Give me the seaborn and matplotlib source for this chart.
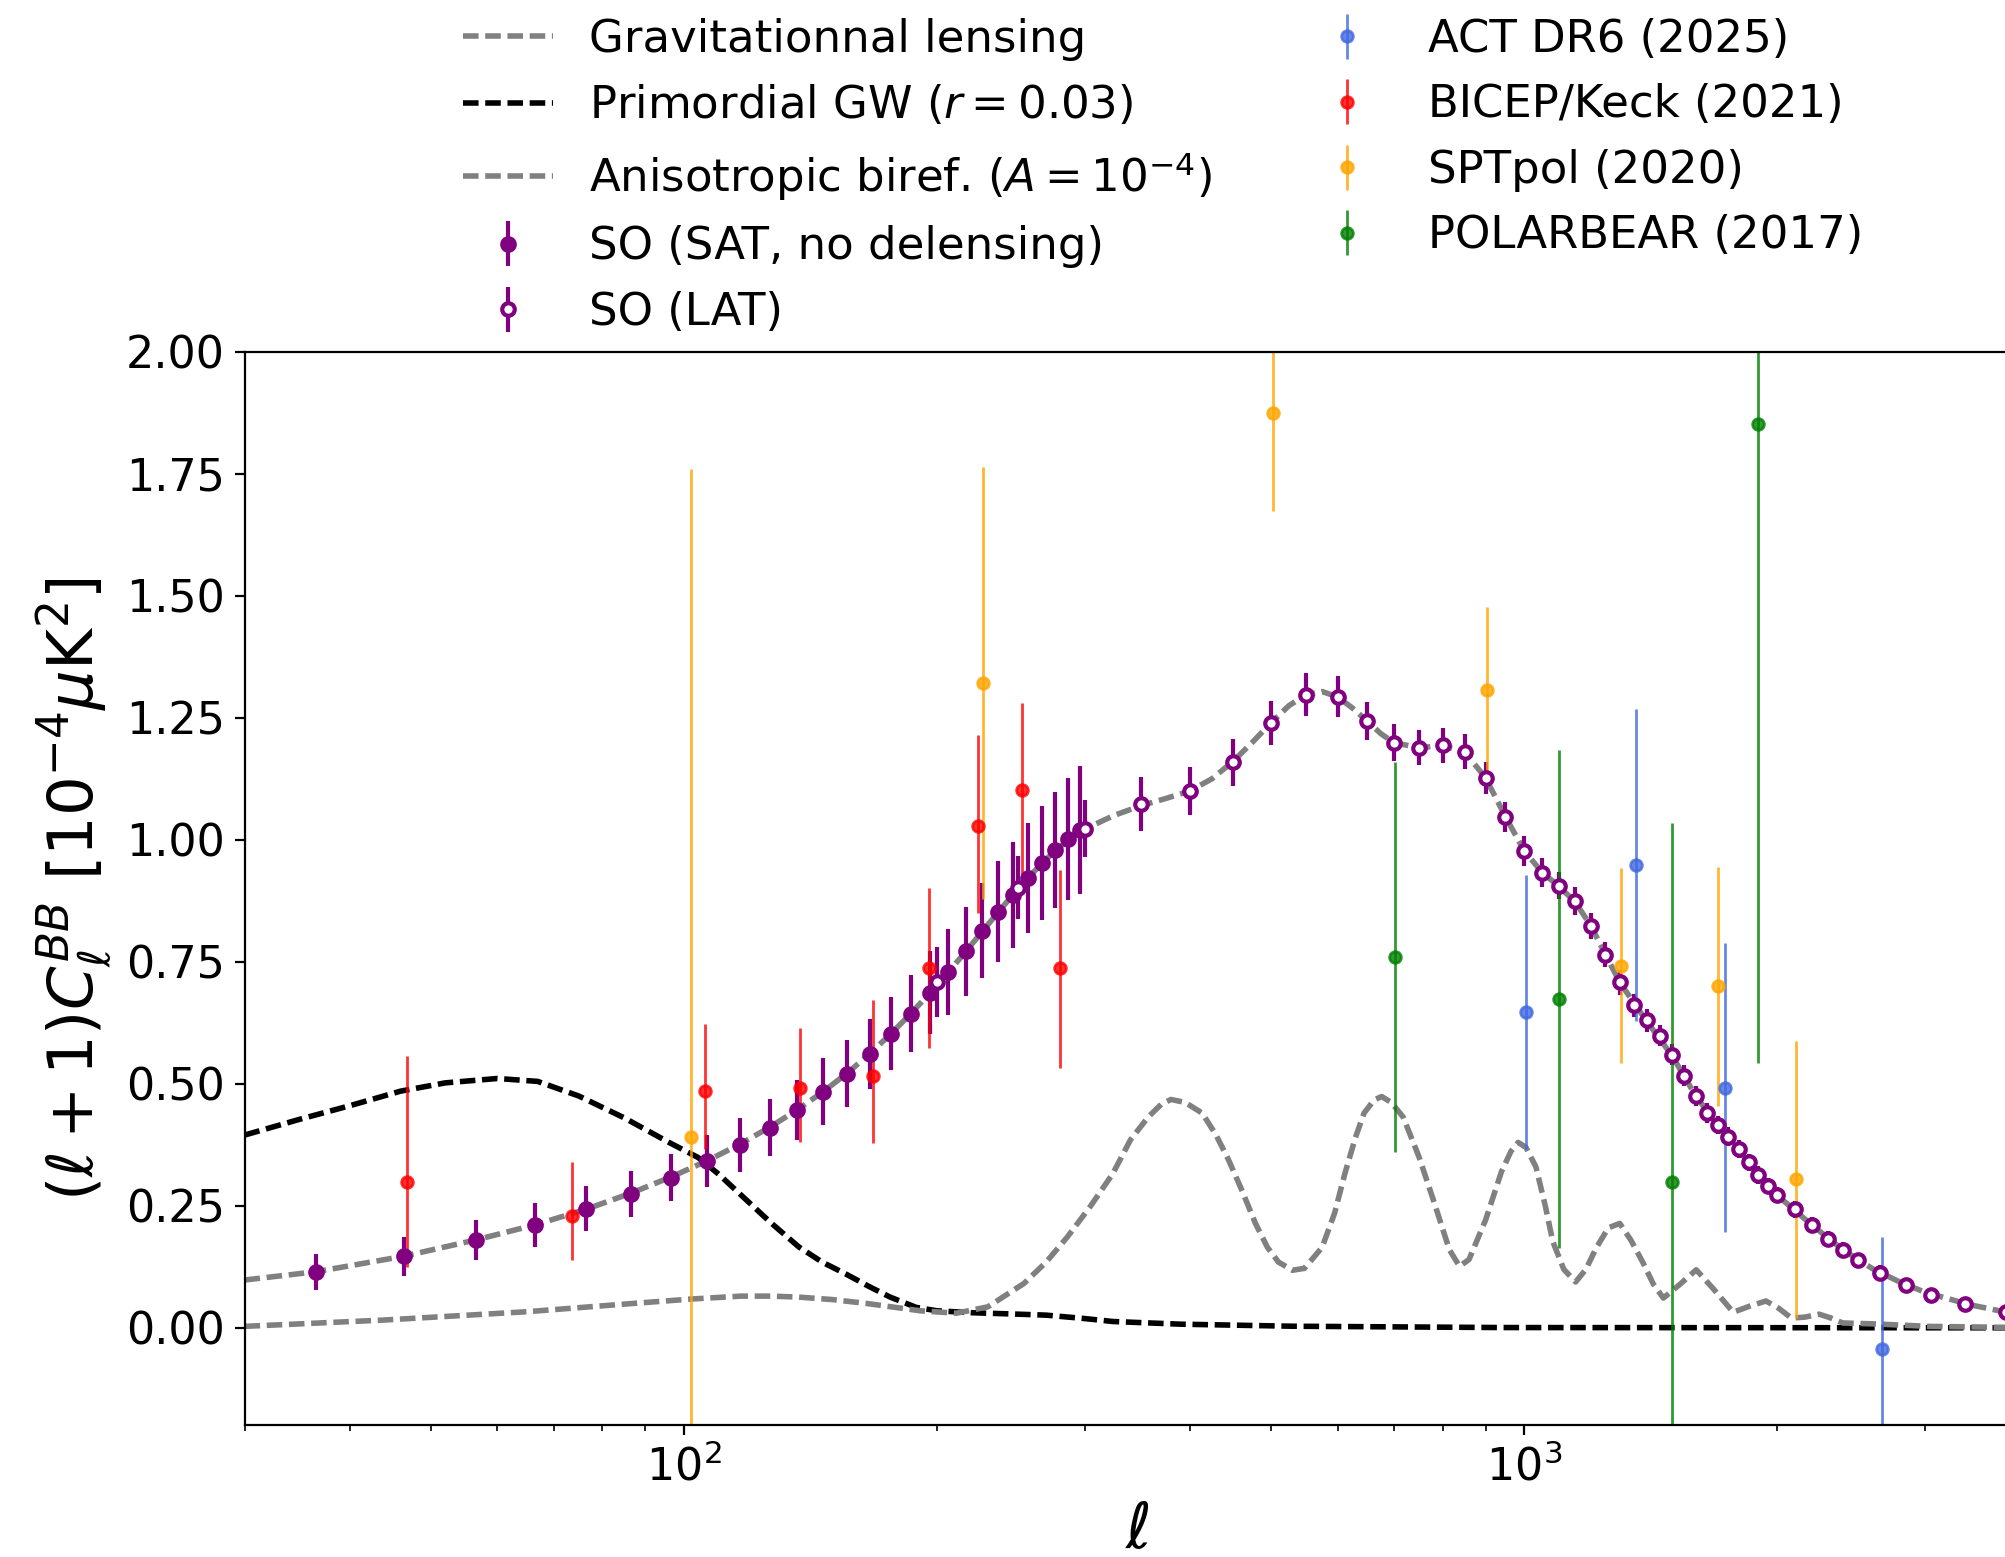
import matplotlib
matplotlib.use("Agg")
import matplotlib.pyplot as plt
import seaborn as sns

# ---- theory curves ----
lens_ell = [30, 36.5, 46.5, 56.5, 66.5, 76.5, 86.5, 96.5, 106.5, 116.5, 126.5, 136.5, 146.5,
            156.5, 166.5, 176.5, 186.5, 196.5, 206.5, 216.5, 226.5, 236.5, 246.5, 256.5, 266.5,
            276.5, 286.5, 300, 325, 350, 375, 400, 425, 450, 475, 500, 525, 550, 575, 600, 625,
            650, 675, 700, 750, 800, 850, 900, 950, 1000, 1050, 1100, 1150, 1200, 1300, 1400,
            1500, 1600, 1700, 1800, 1900, 2000, 2200, 2400, 2600, 2800, 3000, 3400, 3800, 4000]
lens_val = [0.098, 0.115, 0.147, 0.180, 0.211, 0.243, 0.276, 0.309, 0.342, 0.376, 0.411, 0.447,
            0.484, 0.522, 0.562, 0.603, 0.645, 0.687, 0.729, 0.771, 0.812, 0.851, 0.888, 0.921,
            0.951, 0.977, 0.999, 1.022, 1.050, 1.070, 1.085, 1.100, 1.125, 1.160, 1.200, 1.240,
            1.275, 1.297, 1.304, 1.293, 1.270, 1.244, 1.218, 1.199, 1.189, 1.193, 1.180, 1.127,
            1.048, 0.978, 0.934, 0.905, 0.873, 0.825, 0.708, 0.628, 0.558, 0.476, 0.415, 0.365,
            0.313, 0.272, 0.211, 0.159, 0.121, 0.094, 0.073, 0.047, 0.030, 0.026]

gw_ell = [30, 35, 40, 46, 52, 60, 67, 75, 85, 96, 104, 110, 117, 127, 137, 146, 156, 166, 176,
          189, 200, 220, 250, 270, 300, 324, 390, 530, 940, 4000]
gw_val = [0.395, 0.428, 0.455, 0.485, 0.502, 0.511, 0.505, 0.475, 0.430, 0.380, 0.349, 0.315,
          0.272, 0.215, 0.166, 0.135, 0.110, 0.085, 0.063, 0.042, 0.035, 0.031, 0.028, 0.026,
          0.019, 0.013, 0.0075, 0.0033, 0.0006, 0.0]

bir_ell = [30, 44, 65, 87, 102, 117, 127, 137, 150, 165, 191, 211, 230, 254, 270, 286, 305, 324,
           340, 357, 370, 380, 395, 414, 430, 445, 462, 479, 495, 510, 530, 548, 575, 595, 612,
           630, 645, 663, 677, 695, 718, 750, 780, 815, 838, 860, 900, 940, 965, 984, 1005,
           1033, 1060, 1082, 1115, 1152, 1185, 1218, 1260, 1300, 1340, 1385, 1425, 1465, 1535,
           1603, 1680, 1774, 1860, 1941, 2010, 2081, 2160, 2245, 2320, 2395, 2621, 3033, 3750,
           4000]
bir_val = [0.003, 0.016, 0.033, 0.050, 0.059, 0.065, 0.065, 0.063, 0.058, 0.050, 0.035, 0.030,
           0.043, 0.091, 0.135, 0.186, 0.250, 0.316, 0.385, 0.432, 0.458, 0.468, 0.462, 0.440,
           0.395, 0.344, 0.280, 0.214, 0.165, 0.135, 0.118, 0.122, 0.165, 0.235, 0.316, 0.390,
           0.440, 0.467, 0.474, 0.462, 0.432, 0.350, 0.262, 0.160, 0.126, 0.140, 0.221, 0.320,
           0.362, 0.380, 0.370, 0.330, 0.250, 0.177, 0.120, 0.094, 0.120, 0.163, 0.205, 0.214,
           0.180, 0.134, 0.090, 0.061, 0.090, 0.119, 0.080, 0.032, 0.045, 0.055, 0.040, 0.020,
           0.022, 0.028, 0.020, 0.010, 0.008, 0.003, 0.001, 0.0]

# ---- SO forecasts ----
sat_ell = [36.5, 46.5, 56.5, 66.5, 76.5, 86.5, 96.5, 106.5, 116.5, 126.5, 136.5, 146.5, 156.5,
           166.5, 176.5, 186.5, 196.5, 206.5, 216.5, 226.5, 236.5, 246.5, 256.5, 266.5, 276.5,
           286.5, 296.5]
sat_val = [0.115, 0.147, 0.180, 0.210, 0.244, 0.275, 0.308, 0.342, 0.375, 0.410, 0.446, 0.484,
           0.521, 0.561, 0.603, 0.644, 0.687, 0.730, 0.772, 0.814, 0.853, 0.887, 0.922, 0.952,
           0.979, 1.001, 1.021]
sat_err = [0.037, 0.040, 0.041, 0.045, 0.046, 0.047, 0.049, 0.053, 0.056, 0.058, 0.062, 0.068,
           0.069, 0.072, 0.075, 0.079, 0.085, 0.088, 0.091, 0.098, 0.103, 0.108, 0.112, 0.117,
           0.119, 0.125, 0.131]

lat_ell = [200, 250, 300, 350, 400, 450, 500, 550, 600, 650, 700, 750, 800, 850, 900, 950, 1000,
           1050, 1100, 1150, 1200, 1250, 1300, 1350, 1400, 1450, 1500, 1550, 1600, 1650, 1700,
           1750, 1800, 1850, 1900, 1950, 2000, 2100, 2200, 2300, 2400, 2500, 2650, 2850, 3050,
           3350, 3750]
lat_val = [0.709, 0.902, 1.023, 1.073, 1.100, 1.159, 1.240, 1.297, 1.293, 1.244, 1.199, 1.189,
           1.194, 1.181, 1.126, 1.047, 0.977, 0.933, 0.906, 0.875, 0.824, 0.765, 0.708, 0.661,
           0.630, 0.599, 0.560, 0.517, 0.475, 0.440, 0.416, 0.392, 0.366, 0.339, 0.313, 0.291,
           0.272, 0.243, 0.211, 0.183, 0.159, 0.138, 0.113, 0.088, 0.068, 0.049, 0.032]
lat_err = [0.072, 0.065, 0.058, 0.055, 0.050, 0.048, 0.045, 0.044, 0.042, 0.039, 0.038, 0.036,
           0.036, 0.035, 0.033, 0.031, 0.030, 0.029, 0.028, 0.028, 0.027, 0.026, 0.025, 0.024,
           0.023, 0.022, 0.021, 0.021, 0.020, 0.020, 0.019, 0.019, 0.018, 0.018, 0.018, 0.017,
           0.017, 0.017, 0.016, 0.016, 0.016, 0.015, 0.015, 0.015, 0.014, 0.014, 0.014]

# ---- measurements ----
act_ell = [1005, 1358, 1736, 2667]
act_val = [0.647, 0.948, 0.492, -0.044]
act_err = [0.28, 0.32, 0.296, 0.23]

bk_ell = [46.8, 73.7, 106.1, 137.6, 167.9, 195.6, 223.9, 252.9, 280.3]
bk_val = [0.299, 0.229, 0.486, 0.492, 0.516, 0.738, 1.028, 1.103, 0.738]
bk_lo = [0.174, 0.089, 0.119, 0.111, 0.138, 0.164, 0.178, 0.210, 0.206]
bk_hi = [0.258, 0.111, 0.136, 0.122, 0.156, 0.163, 0.187, 0.178, 0.200]

spt_ell = [102, 227, 502, 903, 1306, 1701, 2105]
spt_val = [0.391, 1.321, 1.874, 1.307, 0.742, 0.700, 0.304]
spt_err = [1.37, 0.443, 0.20, 0.171, 0.20, 0.245, 0.283]

pb_ell = [702, 1100, 1500, 1900]
pb_val = [0.760, 0.674, 0.299, 1.853]
pb_err = [0.40, 0.51, 0.735, 1.31]

sns.set_theme(style="ticks", rc={
    "axes.edgecolor": "black", "axes.linewidth": 0.8, "axes.labelcolor": "black",
    "text.color": "black", "xtick.color": "black", "ytick.color": "black",
    "xtick.major.width": 0.8, "ytick.major.width": 0.8,
    "xtick.minor.width": 0.6, "ytick.minor.width": 0.6,
    "xtick.major.size": 3.5, "ytick.major.size": 3.5,
    "xtick.minor.size": 2, "ytick.minor.size": 2,
    "xtick.labelsize": 16, "ytick.labelsize": 16, "legend.fontsize": 16.2,
    "axes.labelsize": 22.5, "lines.linewidth": 1.5, "mathtext.fontset": "dejavusans",
})
plt.rcParams["font.family"] = ["DejaVu Sans"]

fig = plt.figure(figsize=(10.03, 7.785), dpi=200)
ax = fig.add_axes([0.1219, 0.0845, 0.890, 0.6895])
ax.set_xscale("log")

dash = (0, (2.8, 1.2))
sns.lineplot(x=lens_ell, y=lens_val, ax=ax, color="gray", linestyle=dash, linewidth=2,
             estimator=None, sort=False)
h_lens = ax.lines[-1]
sns.lineplot(x=gw_ell, y=gw_val, ax=ax, color="black", linestyle=dash, linewidth=2,
             estimator=None, sort=False)
h_gw = ax.lines[-1]
sns.lineplot(x=bir_ell, y=bir_val, ax=ax, color="gray", linestyle=dash, linewidth=2,
             estimator=None, sort=False)
h_bir = ax.lines[-1]

h_sat = ax.errorbar(sat_ell, sat_val, yerr=sat_err, fmt="o", color="purple", ms=5,
                    elinewidth=1.5)
h_lat = ax.errorbar(lat_ell, lat_val, yerr=lat_err, fmt="o", color="purple", mfc="white",
                    mec="purple", mew=1.5, ms=4.5, elinewidth=1.5)
h_act = ax.errorbar(act_ell, act_val, yerr=act_err, fmt="o", color="royalblue", alpha=0.8,
                    ms=4.2, elinewidth=1)
h_bk = ax.errorbar(bk_ell, bk_val, yerr=[bk_lo, bk_hi], fmt="o", color="red", alpha=0.8,
                   ms=4.2, elinewidth=1)
h_spt = ax.errorbar(spt_ell, spt_val, yerr=spt_err, fmt="o", color="orange", alpha=0.8,
                    ms=4.2, elinewidth=1)
h_pb = ax.errorbar(pb_ell, pb_val, yerr=pb_err, fmt="o", color="green", alpha=0.8,
                   ms=4.2, elinewidth=1)

ax.set_xlim(30, 4000)
ax.set_ylim(-0.2, 2.0)
ax.set_yticks([0, 0.25, 0.5, 0.75, 1.0, 1.25, 1.5, 1.75, 2.0])
ax.set_yticklabels(["0.00", "0.25", "0.50", "0.75", "1.00", "1.25", "1.50", "1.75", "2.00"])
ax.set_xlabel(r"$\ell$")
ax.set_ylabel(r"$(\ell+1)C_\ell^{BB}\ [10^{-4}\mu\mathrm{K}^2]$")

handles = [h_lens, h_gw, h_bir, h_sat, h_lat, h_act, h_bk, h_spt, h_pb]
labels = ["Gravitationnal lensing", r"Primordial GW ($r=0.03$)",
          r"Anisotropic biref. ($A=10^{-4}$)", "SO (SAT, no delensing)", "SO (LAT)",
          "ACT DR6 (2025)", "BICEP/Keck (2021)", "SPTpol (2020)", "POLARBEAR (2017)"]
ax.legend(handles, labels, ncol=2, loc="lower left", bbox_to_anchor=(0.1123, 1.0),
          borderaxespad=0, frameon=False)

fig.savefig("out.png", dpi=200)
